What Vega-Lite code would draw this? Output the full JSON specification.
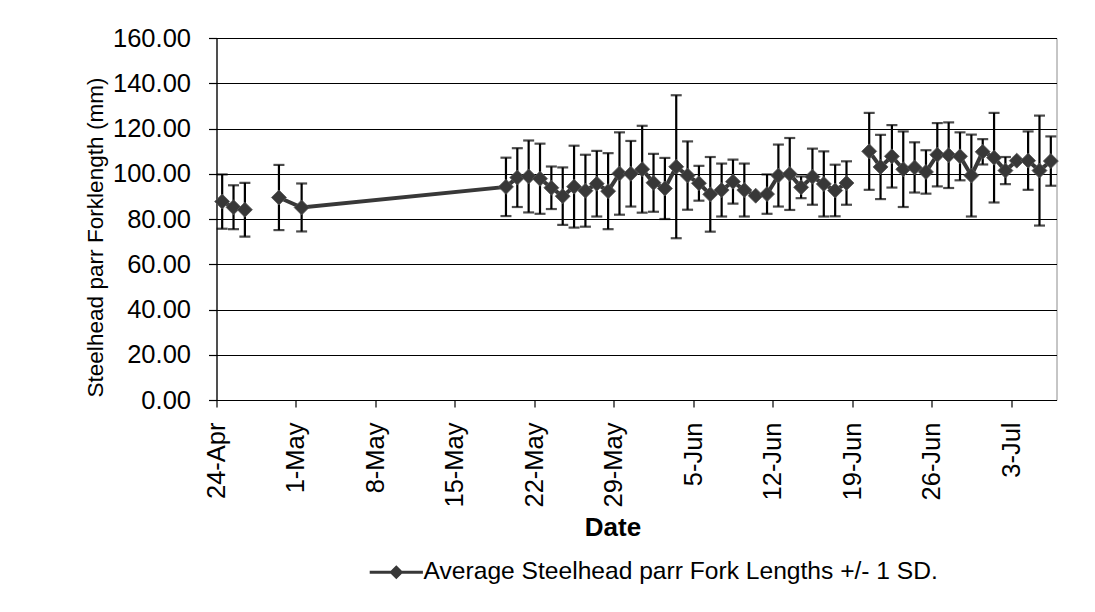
{
  "$schema": "https://vega.github.io/schema/vega-lite/v6.json",
  "autosize": {"type": "none"},
  "width": 840,
  "height": 362,
  "padding": {"left": 216.5, "top": 38, "right": 38, "bottom": 212},
  "background": "white",
  "config": {
    "font": "Liberation Sans",
    "view": {"stroke": "#8c8c8c", "strokeWidth": 1},
    "axis": {
      "domainColor": "black",
      "domainWidth": 1.2,
      "tickColor": "black",
      "tickWidth": 1.2,
      "labelColor": "black",
      "labelFont": "Liberation Sans",
      "titleFont": "Liberation Sans",
      "titleColor": "black"
    }
  },
  "data": {
    "values": [
      {"date": "2009/04/24 12:00", "mean": 87.7, "sd": 12.0},
      {"date": "2009/04/25 12:00", "mean": 85.2, "sd": 9.7},
      {"date": "2009/04/26 12:00", "mean": 84.1, "sd": 11.9},
      {"date": "2009/04/27 12:00", "mean": null, "sd": null},
      {"date": "2009/04/28 12:00", "mean": null, "sd": null},
      {"date": "2009/04/29 12:00", "mean": 89.5, "sd": 14.4},
      {"date": "2009/05/01 12:00", "mean": 85.1, "sd": 10.6},
      {"date": "2009/05/19 12:00", "mean": 94.2, "sd": 12.9},
      {"date": "2009/05/20 12:00", "mean": 98.3, "sd": 13.0},
      {"date": "2009/05/21 12:00", "mean": 98.8, "sd": 15.9},
      {"date": "2009/05/22 12:00", "mean": 97.8, "sd": 15.5},
      {"date": "2009/05/23 12:00", "mean": 93.8, "sd": 9.4},
      {"date": "2009/05/24 12:00", "mean": 90.1, "sd": 12.7},
      {"date": "2009/05/25 12:00", "mean": 94.3, "sd": 18.1},
      {"date": "2009/05/26 12:00", "mean": 92.5, "sd": 15.9},
      {"date": "2009/05/27 12:00", "mean": 95.6, "sd": 14.5},
      {"date": "2009/05/28 12:00", "mean": 92.3, "sd": 16.8},
      {"date": "2009/05/29 12:00", "mean": 100.1, "sd": 18.2},
      {"date": "2009/05/30 12:00", "mean": 100.0, "sd": 14.5},
      {"date": "2009/05/31 12:00", "mean": 102.0, "sd": 19.2},
      {"date": "2009/06/01 12:00", "mean": 96.0, "sd": 12.8},
      {"date": "2009/06/02 12:00", "mean": 93.5, "sd": 13.5},
      {"date": "2009/06/03 12:00", "mean": 103.1, "sd": 31.6},
      {"date": "2009/06/04 12:00", "mean": 99.2, "sd": 15.1},
      {"date": "2009/06/05 12:00", "mean": 95.8, "sd": 7.7},
      {"date": "2009/06/06 12:00", "mean": 90.9, "sd": 16.5},
      {"date": "2009/06/07 12:00", "mean": 92.8, "sd": 11.7},
      {"date": "2009/06/08 12:00", "mean": 96.5, "sd": 9.7},
      {"date": "2009/06/09 12:00", "mean": 92.8, "sd": 11.7},
      {"date": "2009/06/10 12:00", "mean": 90.3, "sd": null},
      {"date": "2009/06/11 12:00", "mean": 91.0, "sd": 8.7},
      {"date": "2009/06/12 12:00", "mean": 99.2, "sd": 13.7},
      {"date": "2009/06/13 12:00", "mean": 99.9, "sd": 15.9},
      {"date": "2009/06/14 12:00", "mean": 94.0, "sd": 4.8},
      {"date": "2009/06/15 12:00", "mean": 98.7, "sd": 12.4},
      {"date": "2009/06/16 12:00", "mean": 95.5, "sd": 14.4},
      {"date": "2009/06/17 12:00", "mean": 92.6, "sd": 11.4},
      {"date": "2009/06/18 12:00", "mean": 95.9, "sd": 9.6},
      {"date": "2009/06/19 12:00", "mean": null, "sd": null},
      {"date": "2009/06/20 12:00", "mean": 109.9, "sd": 17.0},
      {"date": "2009/06/21 12:00", "mean": 103.0, "sd": 14.2},
      {"date": "2009/06/22 12:00", "mean": 107.7, "sd": 13.8},
      {"date": "2009/06/23 12:00", "mean": 102.0, "sd": 16.7},
      {"date": "2009/06/24 12:00", "mean": 102.8, "sd": 11.1},
      {"date": "2009/06/25 12:00", "mean": 100.8, "sd": 9.6},
      {"date": "2009/06/26 12:00", "mean": 108.4, "sd": 14.0},
      {"date": "2009/06/27 12:00", "mean": 108.2, "sd": 14.5},
      {"date": "2009/06/28 12:00", "mean": 107.7, "sd": 10.6},
      {"date": "2009/06/29 12:00", "mean": 99.2, "sd": 18.1},
      {"date": "2009/06/30 12:00", "mean": 109.7, "sd": 5.6},
      {"date": "2009/07/01 12:00", "mean": 107.1, "sd": 19.8},
      {"date": "2009/07/02 12:00", "mean": 101.4, "sd": 6.0},
      {"date": "2009/07/03 12:00", "mean": 105.8, "sd": null},
      {"date": "2009/07/04 12:00", "mean": 105.8, "sd": 12.9},
      {"date": "2009/07/05 12:00", "mean": 101.4, "sd": 24.3},
      {"date": "2009/07/06 12:00", "mean": 105.6, "sd": 10.9}
    ]
  },
  "encoding": {
    "x": {
      "field": "date",
      "type": "temporal",
      "scale": {
        "domain": [
          {"year": 2009, "month": 4, "date": 24},
          {"year": 2009, "month": 7, "date": 7}
        ]
      },
      "axis": {
        "title": "Date",
        "titleFontSize": 26,
        "titleFontWeight": "bold",
        "titleX": 396,
        "titleY": 135,
        "titleBaseline": "alphabetic",
        "values": [
          {"year": 2009, "month": 4, "date": 24},
          {"year": 2009, "month": 5, "date": 1},
          {"year": 2009, "month": 5, "date": 8},
          {"year": 2009, "month": 5, "date": 15},
          {"year": 2009, "month": 5, "date": 22},
          {"year": 2009, "month": 5, "date": 29},
          {"year": 2009, "month": 6, "date": 5},
          {"year": 2009, "month": 6, "date": 12},
          {"year": 2009, "month": 6, "date": 19},
          {"year": 2009, "month": 6, "date": 26},
          {"year": 2009, "month": 7, "date": 3}
        ],
        "format": "%-d-%b",
        "labelAngle": -90,
        "labelFontSize": 25.5,
        "labelPadding": 15,
        "tickSize": 7,
        "grid": false,
        "labelFlush": false,
        "labelOverlap": false
      }
    },
    "y": {
      "field": "mean",
      "type": "quantitative",
      "scale": {"domain": [0, 160], "nice": false},
      "axis": {
        "title": "Steelhead parr Forklength (mm)",
        "titleFontSize": 22.6,
        "titleFontWeight": "normal",
        "titlePadding": 5,
        "titleY": 199,
        "values": [0, 20, 40, 60, 80, 100, 120, 140, 160],
        "format": ".2f",
        "labelFontSize": 25.5,
        "labelPadding": 18,
        "tickSize": 8,
        "grid": true,
        "gridColor": "black",
        "gridWidth": 1
      }
    }
  },
  "layer": [
    {
      "transform": [{"filter": "isValid(datum.sd)"}],
      "mark": {
        "type": "errorbar",
        "color": "black",
        "thickness": 2.2,
        "ticks": {"size": 11, "thickness": 2.2, "color": "black"}
      },
      "encoding": {
        "y": {"field": "mean", "type": "quantitative", "title": "Steelhead parr Forklength (mm)"},
        "yError": {"field": "sd"}
      }
    },
    {
      "mark": {"type": "line", "strokeWidth": 4, "interpolate": "linear"},
      "encoding": {
        "color": {
          "datum": "Average Steelhead parr Fork Lengths +/- 1 SD.",
          "scale": {"range": ["#383838"]},
          "legend": {
            "title": null,
            "orient": "none",
            "legendX": 167.5,
            "legendY": 522,
            "padding": 0,
            "symbolType": "M-3.8,-0.22L3.8,-0.22L3.8,0.22L-3.8,0.22Z M-1,0L0,-1L1,0L0,1Z",
            "symbolSize": 196,
            "symbolFillColor": "#383838",
            "symbolStrokeWidth": 0,
            "labelFontSize": 24.6,
            "labelColor": "black",
            "labelOffset": 15,
            "labelLimit": 0
          }
        }
      }
    },
    {
      "mark": {"type": "point", "shape": "diamond", "filled": true, "size": 225, "opacity": 1, "stroke": "#555555", "strokeWidth": 0.8},
      "encoding": {
        "color": {"datum": "Average Steelhead parr Fork Lengths +/- 1 SD."}
      }
    }
  ]
}
